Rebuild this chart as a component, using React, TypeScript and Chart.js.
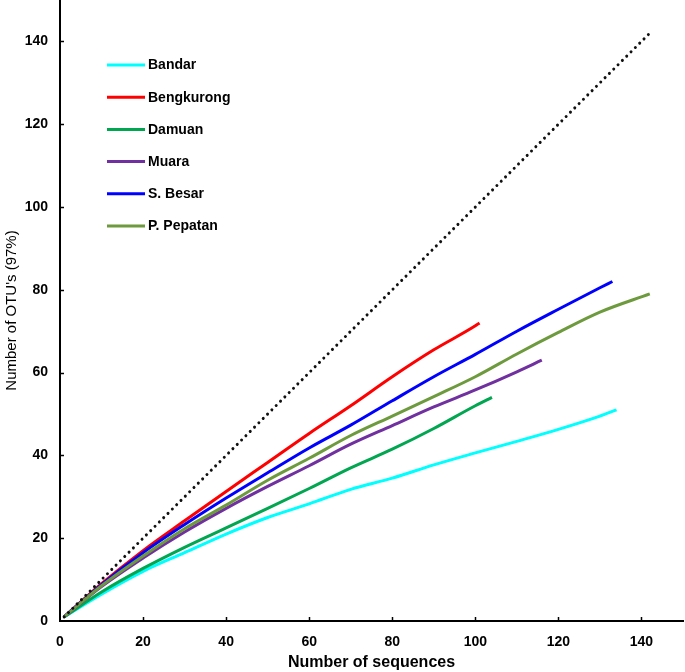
import React, { useEffect, useRef } from "react";
import { Chart, registerables } from "chart.js";

Chart.register(...registerables);

// ---- data ----
const seriesNames = ["Bandar", "Bengkurong", "Damuan", "Muara", "S. Besar", "P. Pepatan"];
const seriesColors = ["#00FFFF", "#FF0000", "#00A650", "#7030A0", "#0000FF", "#6E9A3E"];

const bandarX = [1, 10, 20, 30, 40, 50, 60, 70, 80, 90, 100, 110, 120, 130, 134];
const bandarY = [1, 6.5, 12, 16.5, 21, 25, 28.3, 31.8, 34.5, 37.7, 40.6, 43.4, 46.3, 49.5, 51];

const bengkurongX = [1, 10, 20, 30, 40, 50, 60, 70, 80, 90, 100, 101];
const bengkurongY = [1, 9, 17, 24.2, 31.3, 38.3, 45.3, 52, 59, 65.5, 71.3, 72];

const damuanX = [1, 10, 20, 30, 40, 50, 60, 70, 80, 90, 100, 104];
const damuanY = [1, 7, 12.7, 17.8, 22.5, 27.2, 32, 37, 41.5, 46.5, 52, 54];

const muaraX = [1, 10, 20, 30, 40, 50, 60, 70, 80, 90, 100, 110, 116];
const muaraY = [1, 8.3, 15.2, 21.5, 27.2, 32.5, 37.5, 42.7, 47.2, 51.7, 55.8, 60.2, 63];

const sBesarX = [1, 10, 20, 30, 40, 50, 60, 70, 80, 90, 100, 110, 120, 130, 133];
const sBesarY = [1, 8.8, 16.5, 23.3, 29.7, 35.8, 41.8, 47.3, 53.2, 59, 64.4, 70, 75.3, 80.5, 82];

const pPepatanX = [1, 10, 20, 30, 40, 50, 60, 70, 80, 90, 100, 110, 120, 130, 142];
const pPepatanY = [1, 8.5, 15.7, 22.3, 28, 34, 39.3, 44.8, 49.5, 54.2, 59, 64.5, 69.7, 74.6, 79];

const refLineX = [1, 142];
const refLineY = [1, 142];

const xTicks = [0, 20, 40, 60, 80, 100, 120, 140];
const yTicks = [0, 20, 40, 60, 80, 100, 120, 140];

const xTitle = "Number of sequences";
const yTitle = "Number of OTU's (97%)";

const seriesXs = [bandarX, bengkurongX, damuanX, muaraX, sBesarX, pPepatanX];
const seriesYs = [bandarY, bengkurongY, damuanY, muaraY, sBesarY, pPepatanY];

const FONT = '"Liberation Sans", Arial, Helvetica, sans-serif';

const toPoints = (xs: number[], ys: number[]) => xs.map((x, i) => ({ x, y: ys[i] }));

const overlayPlugin = {
  id: "overlay",
  afterDraw(chart: any) {
    const ctx = chart.ctx;
    const xs = chart.scales.x;
    const ys = chart.scales.y;
    const area = chart.chartArea;
    ctx.save();
    ctx.strokeStyle = "#000";
    ctx.lineWidth = 1.5;
    xTicks.forEach((v) => {
      if (v === 0) return;
      const px = Math.round(xs.getPixelForValue(v)) + 0.5;
      ctx.beginPath();
      ctx.moveTo(px, area.bottom);
      ctx.lineTo(px, area.bottom - 4);
      ctx.stroke();
    });
    yTicks.forEach((v) => {
      if (v === 0) return;
      const py = Math.round(ys.getPixelForValue(v)) + 0.5;
      ctx.beginPath();
      ctx.moveTo(area.left, py);
      ctx.lineTo(area.left + 4, py);
      ctx.stroke();
    });
    // legend
    ctx.font = `bold 14px ${FONT}`;
    ctx.textBaseline = "middle";
    ctx.textAlign = "left";
    seriesNames.forEach((name, i) => {
      const y = 65 + i * 32.2;
      ctx.strokeStyle = seriesColors[i];
      ctx.lineWidth = 3;
      ctx.beginPath();
      ctx.moveTo(107, y);
      ctx.lineTo(145, y);
      ctx.stroke();
      ctx.fillStyle = "#000";
      ctx.fillText(name, 148, y + 0.5);
    });
    ctx.restore();
  },
};

export default function App() {
  const ref = useRef<HTMLCanvasElement | null>(null);
  useEffect(() => {
    if (!ref.current) return;
    const datasets: any[] = seriesNames.map((name, i) => ({
      label: name,
      data: toPoints(seriesXs[i], seriesYs[i]),
      borderColor: seriesColors[i],
      backgroundColor: seriesColors[i],
      borderWidth: 3,
      pointRadius: 0,
      cubicInterpolationMode: "monotone",
      fill: false,
      order: seriesNames.length - i,
    }));
    datasets.push({
      label: "ref",
      data: toPoints(refLineX, refLineY),
      borderColor: "#111",
      borderWidth: 3,
      borderDash: [0.01, 6.1],
      borderCapStyle: "round",
      pointRadius: 0,
      fill: false,
      order: 0,
    });
    const chart = new Chart(ref.current, {
      type: "line",
      data: { datasets },
      options: {
        animation: false,
        responsive: false,
        layout: { padding: { top: 0, right: 2, left: 0, bottom: 0 } },
        plugins: { legend: { display: false }, tooltip: { enabled: false } },
        scales: {
          x: {
            type: "linear",
            min: 0,
            max: 150,
            afterBuildTicks: (s: any) => {
              s.ticks = xTicks.map((v) => ({ value: v }));
            },
            afterFit: (s: any) => {
              s.height = 51;
              s.paddingLeft = 0;
              s.paddingRight = 0;
            },
            grid: { display: false, drawTicks: false },
            border: { display: true, color: "#000", width: 2 },
            ticks: { color: "#000", font: { family: FONT, size: 14, weight: "bold" }, padding: 13, maxRotation: 0 },
            title: {
              display: true,
              text: xTitle,
              color: "#000",
              font: { family: FONT, size: 16, weight: "bold" },
              padding: { top: 0, bottom: 0 },
            },
          },
          y: {
            type: "linear",
            min: 0,
            max: 150,
            afterBuildTicks: (s: any) => {
              s.ticks = yTicks.map((v) => ({ value: v }));
            },
            afterFit: (s: any) => {
              s.width = 60;
              s.paddingTop = 0;
              s.paddingBottom = 0;
            },
            grid: { display: false, drawTicks: false },
            border: { display: true, color: "#000", width: 2 },
            ticks: { color: "#000", font: { family: FONT, size: 14, weight: "bold" }, padding: 12 },
            title: {
              display: true,
              text: yTitle,
              color: "#000",
              font: { family: FONT, size: 15, weight: "normal" },
              padding: { top: 3, bottom: 0 },
            },
          },
        },
      },
      plugins: [overlayPlugin],
    });
    return () => chart.destroy();
  }, []);
  return (
    <div style={{ position: "absolute", left: 0, top: 0, width: 685, height: 672, background: "#fff" }}>
      <canvas ref={ref} width={685} height={672} style={{ display: "block" }} />
    </div>
  );
}
